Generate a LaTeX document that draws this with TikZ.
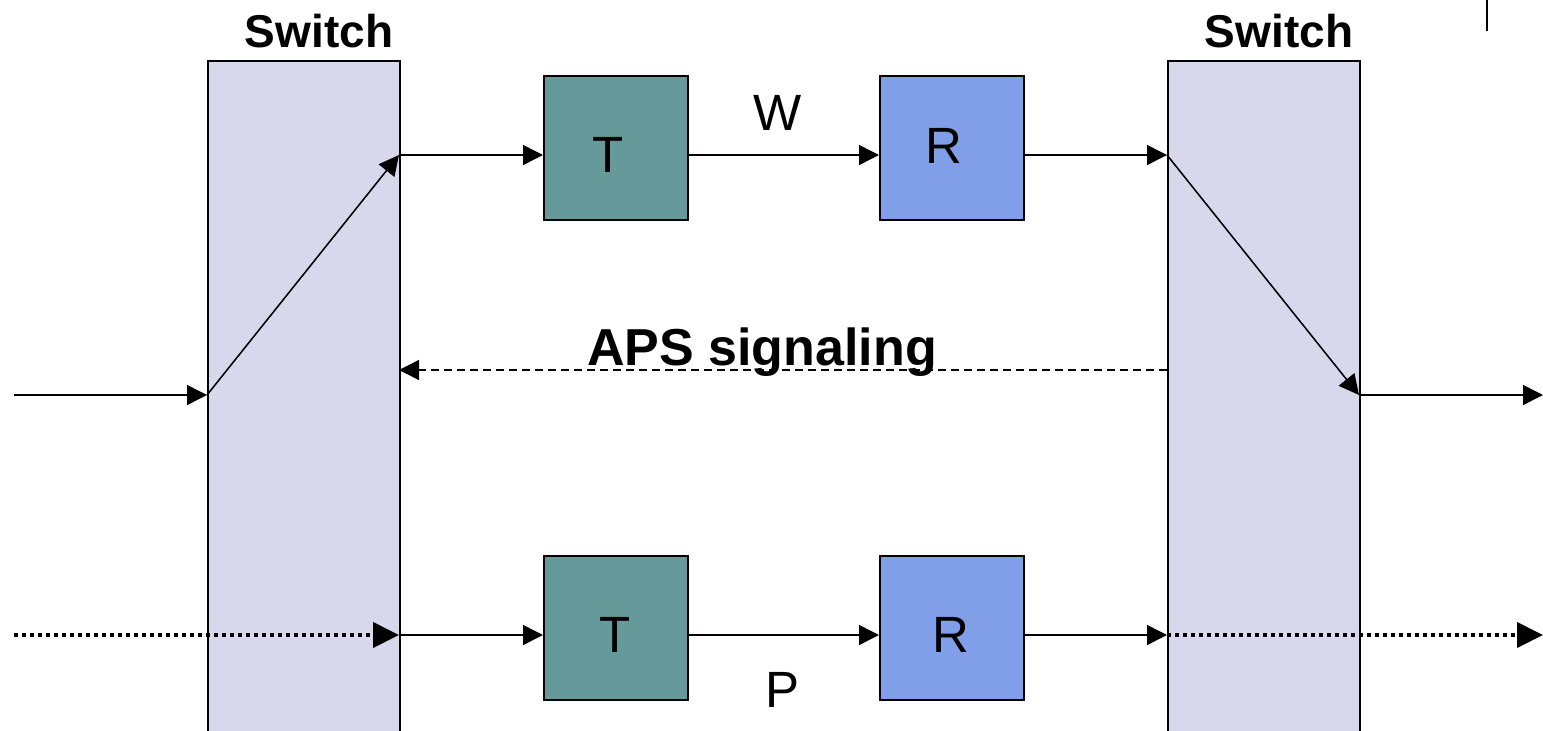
\documentclass[tikz,border=0pt]{standalone}
\usepackage{fontspec}
\setmainfont{Liberation Sans}
\usetikzlibrary{arrows.meta}
\definecolor{swfill}{HTML}{D8D8EC}
\definecolor{tfill}{HTML}{669999}
\definecolor{rfill}{HTML}{809FE8}
\begin{document}
\begin{tikzpicture}[x=1pt,y=-1pt,
  switchbox/.style={draw, line width=1.5pt, fill=swfill, minimum width=192pt, minimum height=720pt, anchor=north west, inner sep=0pt},
  tbox/.style={draw, line width=1.5pt, fill=tfill, minimum size=144pt, anchor=north west, inner sep=0pt},
  rbox/.style={draw, line width=1.5pt, fill=rfill, minimum size=144pt, anchor=north west, inner sep=0pt},
  arr/.style={line width=1.5pt, -{Triangle[length=20pt,width=20pt]}},
  dotarr/.style={line width=4pt, dash pattern=on 4pt off 4pt, -{Triangle[length=26pt,width=25pt]}},
  dasharr/.style={line width=1.5pt, dash pattern=on 8pt off 5pt, -{Triangle[length=20pt,width=20pt]}},
  boldlbl/.style={font=\fontsize{46}{50}\selectfont\bfseries, anchor=base, inner sep=0pt},
  apslbl/.style={font=\fontsize{52}{56}\selectfont\bfseries, anchor=base, inner sep=0pt},
  lbl/.style={font=\fontsize{51}{56}\selectfont, anchor=base, inner sep=0pt}]
\useasboundingbox (0,0) rectangle (1543,731);
\clip (0,0) rectangle (1543,731);
% switches
\node[switchbox] (sL) at (207,60) {};
\node[switchbox] (sR) at (1167,60) {};
\node[boldlbl] (sLt) at (319,47) {Switch};
\node[boldlbl] (sRt) at (1279,47) {Switch};
% T / R boxes
\node[tbox] (T1) at (543,75) {};
\node[rbox] (R1) at (879,75) {};
\node[tbox] (T2) at (543,555) {};
\node[rbox] (R2) at (879,555) {};
\node[lbl] (T1t) at (608,172) {T};
\node[lbl] (R1t) at (944,163) {R};
\node[lbl] (T2t) at (615,652) {T};
\node[lbl] (R2t) at (951,652) {R};
\node[lbl] (Wt) at (778,130) {W};
\node[lbl] (Pt) at (783,707) {P};
\node[apslbl] (aps) at (762,365) {APS signaling};
% coordinates
\coordinate (inW) at (14,395);
\coordinate (sLin) at (207,395);
\coordinate (sLoutW) at (399,155);
\coordinate (sRinW) at (1167,155);
\coordinate (sRout) at (1359,395);
\coordinate (outW) at (1543,395);
\coordinate (inP) at (14,635);
\coordinate (sLoutP) at (399,635);
\coordinate (sRinP) at (1167,635);
\coordinate (outP) at (1543,635);
\coordinate (apsA) at (1167,370);
\coordinate (apsB) at (399,370);
\coordinate (tickA) at (1487,0);
\coordinate (tickB) at (1487,31);
% working path
\draw[arr] (inW) -- (sLin);
\draw[arr] (sLin) -- (sLoutW);
\draw[arr] (sLoutW) -- (sLoutW -| T1.west);
\draw[arr] (T1.east |- sLoutW) -- (R1.west |- sLoutW);
\draw[arr] (R1.east |- sRinW) -- (sRinW);
\draw[arr] (sRinW) -- (sRout);
\draw[arr] (sRout) -- (outW);
% protection path
\draw[dotarr] (inP) -- (sLoutP);
\draw[arr] (sLoutP) -- (sLoutP -| T2.west);
\draw[arr] (T2.east |- sLoutP) -- (R2.west |- sLoutP);
\draw[arr] (R2.east |- sRinP) -- (sRinP);
\draw[dotarr] (sRinP) -- (outP);
% APS
\draw[dasharr] (apsA) -- (apsB);
\draw[line width=1.5pt] (tickA) -- (tickB);
\end{tikzpicture}
\end{document}
